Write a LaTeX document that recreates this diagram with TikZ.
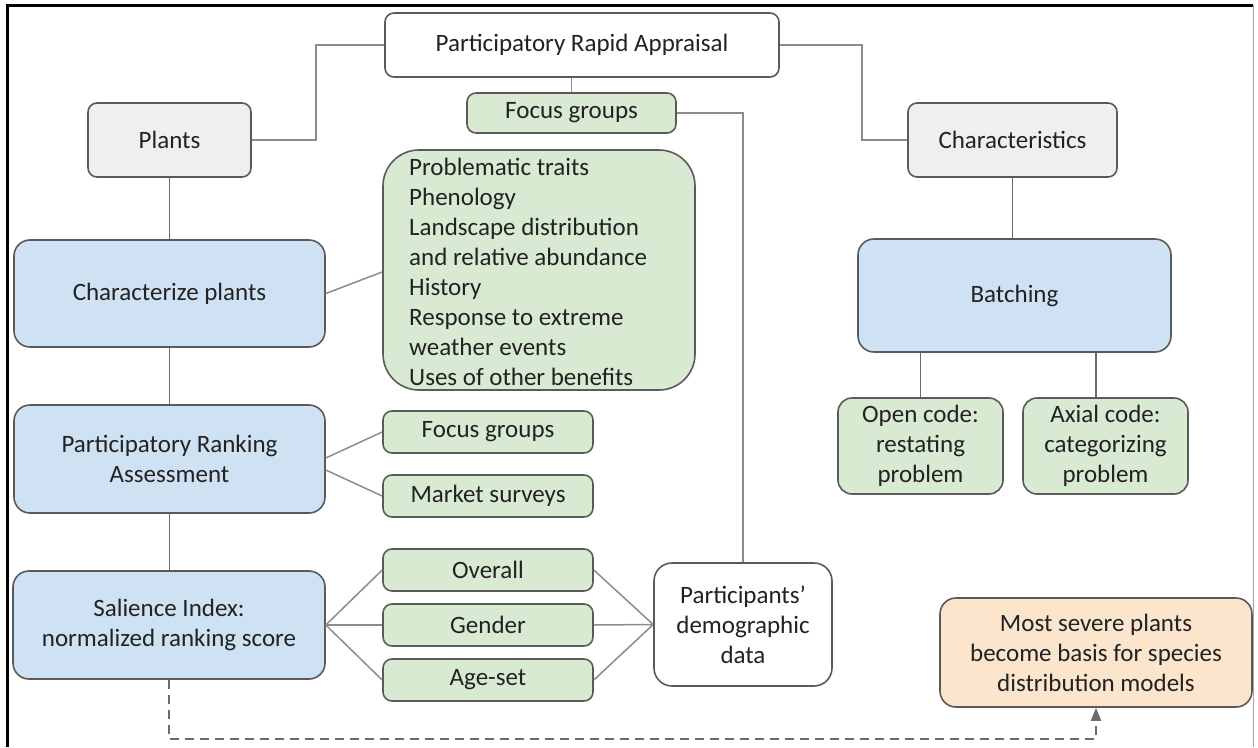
\documentclass[tikz,border=0pt]{standalone}
\usepackage{fontspec}
\setmainfont{Carlito}
\usetikzlibrary{arrows.meta,calc}
\definecolor{boxline}{HTML}{5A5A5A}
\definecolor{conn}{HTML}{8C8C8C}
\definecolor{grayfill}{HTML}{EFEFEF}
\definecolor{bluefill}{HTML}{CFE2F3}
\definecolor{greenfill}{HTML}{D9EAD3}
\definecolor{orangefill}{HTML}{FCE5CD}
\definecolor{txt}{HTML}{222222}
\begin{document}
\begin{tikzpicture}[x=1pt,y=-1pt,
  box/.style={draw=boxline, line width=1.6pt, rounded corners=9pt, align=center,
    text=txt, inner sep=0pt, font=\fontsize{25}{30}\selectfont},
  whitebox/.style={box, fill=white},
  graybox/.style={box, fill=grayfill},
  bluebox/.style={box, fill=bluefill, rounded corners=16pt},
  greenbox/.style={box, fill=greenfill},
  orangebox/.style={box, fill=orangefill, rounded corners=16pt},
  conn/.style={draw=conn, line width=1.5pt},
  darkconn/.style={draw=boxline!90, line width=1.5pt},
  dashconn/.style={draw=boxline!90, line width=2.2pt, dash pattern=on 9pt off 6pt,
    -{Triangle[length=13pt,width=10pt]}}]
\useasboundingbox (0,0) rectangle (1258,747);
\fill[white] (0,0) rectangle (1258,747);
% frame
\draw[black, line width=3pt] (7,747) -- (7,5) -- (1253,5);
\draw[gray!70, line width=1pt] (1253,5) -- (1253,747);

% nodes
\node[whitebox, minimum width=394pt, minimum height=64pt] (pra) at (582,45) {Participatory Rapid Appraisal};
\node[greenbox, minimum width=209pt, minimum height=40pt] (fgtop) at (571.5,113) {Focus groups};
\node[graybox, minimum width=163pt, minimum height=74pt] (plants) at (169.5,140) {Plants};
\node[graybox, minimum width=209pt, minimum height=74pt] (chars) at (1012.5,140) {Characteristics};
\node[greenbox, rounded corners=36pt, minimum width=312pt, minimum height=240pt] (traits) at (539,270) {};
\node[anchor=north west, align=left, text=txt, inner sep=0pt, font=\fontsize{25}{30}\selectfont] (traitstext) at (409,158)
  {Problematic traits\\Phenology\\Landscape distribution\\and relative abundance\\History\\Response to extreme\\weather events\\Uses of other benefits};
\node[bluebox, minimum width=311pt, minimum height=107pt] (charplants) at (169.5,293.5) {Characterize plants};
\node[bluebox, minimum width=313pt, minimum height=113pt] (batching) at (1014.5,295.5) {Batching};
\node[bluebox, minimum width=311pt, minimum height=108pt] (ranking) at (169.5,459) {Participatory Ranking\\Assessment};
\node[greenbox, minimum width=210pt, minimum height=42pt] (fgmid) at (488,432) {Focus groups};
\node[greenbox, minimum width=210pt, minimum height=42pt] (market) at (488,496) {Market surveys};
\node[greenbox, rounded corners=14pt, minimum width=165pt, minimum height=96pt] (opencode) at (920.5,446) {Open code:\\restating\\problem};
\node[greenbox, rounded corners=14pt, minimum width=165pt, minimum height=96pt] (axial) at (1105.5,446) {Axial code:\\categorizing\\problem};
\node[bluebox, minimum width=312pt, minimum height=108pt] (salience) at (169,625) {Salience Index:\\normalized ranking score};
\node[greenbox, minimum width=210pt, minimum height=42pt] (overall) at (488,570) {Overall};
\node[greenbox, minimum width=210pt, minimum height=42pt] (gender) at (488,625) {Gender};
\node[greenbox, minimum width=210pt, minimum height=42pt] (ageset) at (488,680) {Age-set};
\node[whitebox, rounded corners=18pt, minimum width=178pt, minimum height=123pt] (participants) at (743,624.5) {Participants’\\demographic\\data};
\node[orangebox, minimum width=312pt, minimum height=109pt] (severe) at (1096,652.5) {Most severe plants\\become basis for species\\distribution models};

% connectors
\draw[conn] (pra.west) -- ++(-68,0) |- (plants.east);
\draw[conn] (pra.east) -- ++(82,0) |- (chars.west);
\draw[conn] (fgtop.north) -- (fgtop.north |- pra.south);
\draw[conn] (fgtop.east) -| (participants.north);
\draw[darkconn] (plants.south) -- (charplants.north);
\draw[conn] (charplants.east) -- ($(traits.west)+(0,2)$);
\draw[darkconn] (charplants.south) -- (ranking.north);
\draw[conn] ($(ranking.east)+(0,-1)$) -- (fgmid.west);
\draw[conn] ($(ranking.east)+(0,11)$) -- (market.west);
\draw[darkconn] (ranking.south) -- (ranking.south |- salience.north);
\draw[conn] (salience.east) -- (overall.west);
\draw[conn] (salience.east) -- (gender.west);
\draw[conn] (salience.east) -- (ageset.west);
\draw[conn] (overall.east) -- (participants.west);
\draw[conn] (gender.east) -- (participants.west);
\draw[conn] (ageset.east) -- (participants.west);
\draw[darkconn] (chars.south) -- (chars.south |- batching.north);
\draw[darkconn] (opencode.north) -- (opencode.north |- batching.south);
\draw[darkconn] ([xshift=-9.5pt]axial.north) -- ([xshift=-9.5pt]axial.north |- batching.south);
\coordinate (dashcorner) at (170,739);
\draw[dashconn] (salience.south) -- (salience.south |- dashcorner) -| (severe.south);
\end{tikzpicture}
\end{document}
